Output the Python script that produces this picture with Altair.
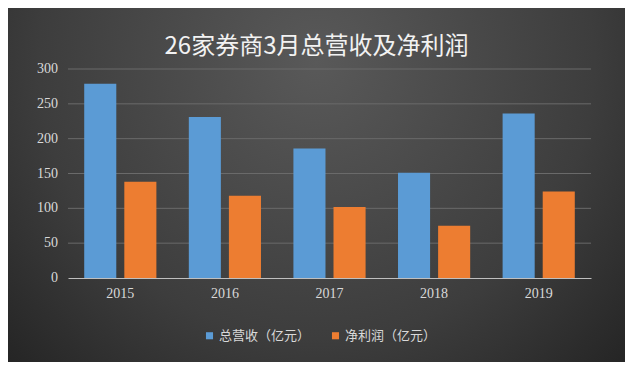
import altair as alt
import pandas as pd

years = ["2015", "2016", "2017", "2018", "2019"]
revenue = [279, 231, 186, 151, 236]
profit = [138, 118, 102, 75, 124]
series = ["总营收（亿元）", "净利润（亿元）"]
colors = ["#5b9bd5", "#ed7d31"]
ticks = [0, 50, 100, 150, 200, 250, 300]
title_text = "26家券商3月总营收及净利润"

rows = []
for i, y in enumerate(years):
    rows.append({"year": y, "series": series[0], "value": revenue[i]})
    rows.append({"year": y, "series": series[1], "value": profit[i]})
df = pd.DataFrame(rows)

W, H = 523, 209
PAD = {"left": 60, "top": 61, "right": 34, "bottom": 84}
SERIF = "Liberation Serif"

yscale = alt.Scale(domain=[0, 300], nice=False)

bg = alt.Chart(pd.DataFrame({"a": [0]})).mark_rect(
    color={
        "gradient": "radial",
        "x1": 0.5, "y1": 0.3, "x2": 0.5, "y2": 0.3,
        "r1": 0, "r2": 0.75,
        "stops": [
            {"offset": 0, "color": "#595959"},
            {"offset": 0.6, "color": "#3d3d3d"},
            {"offset": 1, "color": "#202020"},
        ],
    }
).encode(
    x=alt.value(-PAD["left"]),
    x2=alt.value(W + PAD["right"]),
    y=alt.value(-PAD["top"]),
    y2=alt.value(H + PAD["bottom"]),
)

grid = alt.Chart(pd.DataFrame({"v": ticks[1:]})).mark_rule(
    color="#6a6a6a", strokeWidth=1
).encode(y=alt.Y("v:Q", title=None, scale=yscale, axis=None))

ylabels = alt.Chart(pd.DataFrame({"v": ticks})).mark_text(
    font=SERIF, fontSize=14, color="#d9d9d9", align="right", baseline="middle"
).encode(
    y=alt.Y("v:Q", title=None, scale=yscale, axis=None),
    text=alt.Text("v:Q", format="d"),
    x=alt.value(-10),
)

bars = alt.Chart(df).mark_bar().encode(
    x=alt.X("year:N", sort=years, title=None,
            scale=alt.Scale(paddingInner=0.31, paddingOuter=0.155),
            axis=alt.Axis(labelAngle=0, labelFont=SERIF, labelFontSize=14,
                          labelColor="#d9d9d9", labelPadding=8, ticks=False,
                          domainColor="#bfbfbf", domainWidth=1, grid=False, zindex=2)),
    xOffset=alt.XOffset("series:N", sort=series,
                        scale=alt.Scale(paddingInner=0.2, paddingOuter=0)),
    y=alt.Y("value:Q", title=None, scale=yscale, axis=None),
    color=alt.Color("series:N", sort=series,
                    scale=alt.Scale(domain=series, range=colors),
                    legend=alt.Legend(title=None, orient="none", legendX=135, legendY=260,
                                      direction="horizontal", symbolType="square",
                                      symbolSize=50, symbolStrokeWidth=0,
                                      labelFont="Noto Sans CJK SC", labelFontSize=13,
                                      labelColor="#d9d9d9", columnPadding=18,
                                      labelOffset=3)),
)

title = alt.Chart(pd.DataFrame({"t": [title_text]})).mark_text(
    font="Noto Sans CJK SC", fontSize=24, color="#f2f2f2", align="center", baseline="middle"
).encode(text="t:N", x=alt.value(W / 2 - 13), y=alt.value(-22))

chart = alt.layer(bg, grid, ylabels, bars, title).properties(
    width=W, height=H, padding=PAD, autosize=alt.AutoSizeParams(type="none"),
    background="#2a2a2a",
).configure_view(stroke=None)

chart.save("out.html", embed_options={"renderer": "svg", "actions": False})
